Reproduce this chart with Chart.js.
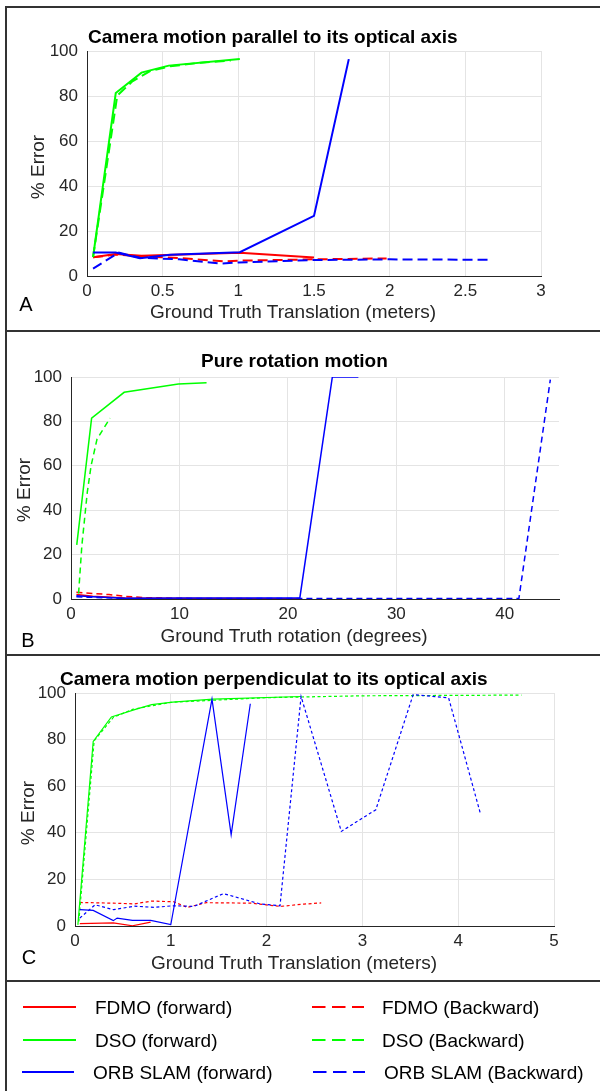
<!DOCTYPE html>
<html>
<head>
<meta charset="utf-8">
<script src="https://cdn.jsdelivr.net/npm/chart.js@4.4.1/dist/chart.umd.min.js"></script>
<style>
  body { margin: 0; background: #fff; }
  #page { position: relative; width: 600px; height: 1091px; overflow: hidden; font-family: "Liberation Sans", Arial, sans-serif; color: #262626; }
  canvas { position: absolute; left: 0; }
  .txt { position: absolute; white-space: nowrap; line-height: 1; }
  .ttl { font-weight: bold; font-size: 19px; color: #000; }
  .lbl { font-size: 19px; width: 400px; text-align: center; }
  .ylbl { font-size: 19px; transform: translate(-50%, -50%) rotate(-90deg); }
  .ltr { font-size: 20px; color: #000; transform: translate(-50%, -50%); }
  .leg { font-size: 19px; color: #000; }
  .hline { position: absolute; left: 5px; right: 0; height: 2px; background: #333; z-index: 2; }
  .vline { position: absolute; left: 5px; top: 6px; bottom: 0; width: 2px; background: #333; z-index: 2; }
  svg { position: absolute; left: 0; top: 0; }
</style>
</head>
<body>
<div id="page">
  <canvas id="chartA" width="600" height="330" style="top:0px"></canvas>
  <canvas id="chartB" width="600" height="324" style="top:331px"></canvas>
  <canvas id="chartC" width="600" height="325" style="top:656px"></canvas>

  <div class="vline"></div>
  <div class="hline" style="top:6px"></div>
  <div class="hline" style="top:330px"></div>
  <div class="hline" style="top:654px"></div>
  <div class="hline" style="top:980px"></div>

  <div class="txt ttl" style="left:88px; top:27px">Camera motion parallel to its optical axis</div>
  <div class="txt lbl" style="left:93px; top:302px">Ground Truth Translation (meters)</div>
  <div class="txt ylbl" style="left:37px; top:167px">% Error</div>
  <div class="txt ltr" style="left:26px; top:304px">A</div>

  <div class="txt ttl" style="left:201px; top:351px">Pure rotation motion</div>
  <div class="txt lbl" style="left:94px; top:626px">Ground Truth rotation (degrees)</div>
  <div class="txt ylbl" style="left:23px; top:490px">% Error</div>
  <div class="txt ltr" style="left:28px; top:640px">B</div>

  <div class="txt ttl" style="left:60px; top:669px">Camera motion perpendiculat to its optical axis</div>
  <div class="txt lbl" style="left:94px; top:953px">Ground Truth Translation (meters)</div>
  <div class="txt ylbl" style="left:27px; top:813px">% Error</div>
  <div class="txt ltr" style="left:29px; top:957px">C</div>

  <svg width="600" height="1091">
    <line x1="23" y1="1007" x2="76" y2="1007" stroke="#ff0000" stroke-width="2"/>
    <line x1="23" y1="1040" x2="76" y2="1040" stroke="#00ff00" stroke-width="2"/>
    <line x1="22" y1="1072" x2="74" y2="1072" stroke="#0000ff" stroke-width="2"/>
    <line x1="312" y1="1007" x2="364" y2="1007" stroke="#ff0000" stroke-width="2" stroke-dasharray="13.5 6.5"/>
    <line x1="312" y1="1040" x2="364" y2="1040" stroke="#00ff00" stroke-width="2" stroke-dasharray="13.5 6.5"/>
    <line x1="313" y1="1072" x2="365" y2="1072" stroke="#0000ff" stroke-width="2" stroke-dasharray="13.5 6.5"/>
  </svg>
  <div class="txt leg" style="left:95px; top:998px">FDMO (forward)</div>
  <div class="txt leg" style="left:95px; top:1031px">DSO (forward)</div>
  <div class="txt leg" style="left:93px; top:1063px">ORB SLAM (forward)</div>
  <div class="txt leg" style="left:382px; top:998px">FDMO (Backward)</div>
  <div class="txt leg" style="left:382px; top:1031px">DSO (Backward)</div>
  <div class="txt leg" style="left:384px; top:1063px">ORB SLAM (Backward)</div>
</div>

<script>
// A: motion parallel to optical axis (x in meters)
const parFdmoFwdX = [0.04, 0.19, 0.36, 1.01, 1.5];
const parFdmoFwdY = [8.3, 9.8, 9.0, 10.3, 8.2];
const parFdmoBwdX = [0.04, 0.19, 0.4, 0.6, 0.9, 1.0, 1.5, 1.98];
const parFdmoBwdY = [8.3, 9.5, 8.6, 8.0, 6.5, 6.8, 7.4, 7.8];
const parDsoFwdX  = [0.04, 0.19, 0.36, 0.54, 1.01];
const parDsoFwdY  = [8.4, 81.3, 90.4, 93.5, 96.4];
const parDsoBwdX  = [0.04, 0.2, 0.3, 0.42, 0.55, 0.75, 0.95];
const parDsoBwdY  = [8.4, 80.2, 86.5, 91.2, 93.2, 94.8, 95.8];
const parOrbFwdX  = [0.04, 0.19, 0.35, 0.55, 1.01, 1.5, 1.73];
const parOrbFwdY  = [10.4, 10.4, 7.9, 9.4, 10.6, 26.7, 96.4];
const parOrbBwdX  = [0.04, 0.21, 0.35, 0.61, 0.88, 1.0, 1.5, 2.0, 2.66];
const parOrbBwdY  = [3.3, 10.4, 8.1, 7.4, 5.5, 6.0, 7.1, 7.4, 7.2];

// B: pure rotation (x in degrees)
const rotFdmoFwdX = [0.5, 2, 5, 10, 21];
const rotFdmoFwdY = [2.0, 1.2, 0.4, 0.2, 0.1];
const rotFdmoBwdX = [0.5, 2, 3.5, 5, 7, 10, 20];
const rotFdmoBwdY = [3.0, 2.5, 2.0, 1.2, 0.6, 0.3, 0.1];
const rotDsoFwdX  = [0.53, 1.9, 4.9, 9.9, 12.5];
const rotDsoFwdY  = [24.4, 81.5, 93.1, 96.8, 97.4];
const rotDsoBwdX  = [0.7, 1.0, 1.5, 1.85, 2.4, 3.6];
const rotDsoBwdY  = [2.5, 24, 48, 60, 72, 81.5];
const rotOrbFwdX  = [0.5, 2, 5, 10, 21.1, 24.1, 26.5];
const rotOrbFwdY  = [1.5, 1.0, 0.3, 0.5, 0.5, 100, 100];
const rotOrbBwdX  = [0.5, 5, 10, 20, 30, 41.3, 44.2];
const rotOrbBwdY  = [1.0, 0.2, 0.1, 0.2, 0.2, 0.2, 98.8];

// C: motion perpendicular to optical axis (x in meters)
const perFdmoFwdX = [0.05, 0.4, 0.6, 0.79];
const perFdmoFwdY = [1.0, 1.3, 0.1, 1.7];
const perFdmoBwdX = [0.05, 0.4, 0.62, 0.8, 1.03, 1.17, 1.37, 1.84, 2.14, 2.39, 2.57];
const perFdmoBwdY = [10.1, 9.8, 9.5, 10.7, 10.4, 8.0, 10.0, 9.8, 8.4, 9.4, 9.9];
const perDsoFwdX  = [0.03, 0.19, 0.38, 0.64, 0.8, 1.02, 1.44, 2.36];
const perDsoFwdY  = [0.5, 79.2, 89.7, 93.1, 95.0, 96.1, 97.4, 98.5];
const perDsoBwdX  = [0.04, 0.2, 0.4, 0.6, 1.0, 2.0, 3.0, 4.66];
const perDsoBwdY  = [2, 79.5, 89.5, 93, 96, 98, 98.8, 99.1];
const perOrbFwdX  = [0.05, 0.19, 0.4, 0.44, 0.6, 0.79, 1.0, 1.43, 1.63, 1.83];
const perOrbFwdY  = [7.0, 6.7, 2.3, 3.4, 2.4, 2.4, 0.6, 97.4, 39.2, 95.4];
const perOrbBwdX  = [0.05, 0.21, 0.4, 0.62, 0.83, 1.03, 1.24, 1.55, 1.94, 2.14, 2.36, 2.78, 3.14, 3.53, 3.9, 4.23];
const perOrbBwdY  = [3.4, 9.1, 7.0, 8.5, 8.0, 8.7, 8.4, 13.9, 9.4, 8.7, 98.5, 40.6, 49.9, 99.3, 97.9, 48.5];

const seriesNames = ["FDMO (forward)", "FDMO (Backward)", "DSO (forward)", "DSO (Backward)", "ORB SLAM (forward)", "ORB SLAM (Backward)"];
const seriesColors = ["#ff0000", "#ff0000", "#00ff00", "#00ff00", "#0000ff", "#0000ff"];

Chart.defaults.font.family = '"Liberation Sans", Arial, sans-serif';
Chart.defaults.color = "#262626";

const charts = {};
const pts = (xs, ys) => xs.map((x, i) => ({ x, y: ys[i] }));

function renderPainel(canvasId, series, box) {
  if (charts[canvasId]) charts[canvasId].destroy();
  const ctx = document.getElementById(canvasId)?.getContext("2d");
  if (!ctx) return;

  // matlab draws later lines on top, chart.js draws dataset 0 on top -> reverse
  const datasets = series.map(([xs, ys], i) => ({
    label: seriesNames[i],
    data: pts(xs, ys),
    borderColor: seriesColors[i],
    borderWidth: box.lineW,
    borderDash: i % 2 ? box.dash : [],
    pointRadius: 0,
    tension: 0,
    fill: false,
  })).reverse();

  charts[canvasId] = new Chart(ctx, {
    type: "line",
    data: { datasets },
    options: {
      responsive: false,
      animation: false,
      layout: { padding: { left: 0, top: box.top, right: 600 - box.right, bottom: 0 } },
      plugins: { legend: { display: false }, tooltip: { enabled: false } },
      scales: {
        x: {
          type: "linear", min: 0, max: box.xMax,
          afterFit: (s) => { s.height = box.h - box.bottom; },
          ticks: {
            stepSize: box.xStep, includeBounds: false, autoSkip: false, maxRotation: 0, padding: 5,
            font: { size: 17 },
            callback: (v) => String(Math.round(v * 10) / 10),
          },
          grid: { color: "#e4e4e4", drawTicks: false },
          border: { color: "#262626", width: 1 },
        },
        y: {
          min: 0, max: 100,
          afterFit: (s) => { s.width = box.left; },
          ticks: { stepSize: 20, padding: 9, font: { size: 17 } },
          grid: { color: "#e4e4e4", drawTicks: false },
          border: { color: "#262626", width: 1 },
        },
      },
    },
  });
}

renderPainel("chartA", [
  [parFdmoFwdX, parFdmoFwdY], [parFdmoBwdX, parFdmoBwdY],
  [parDsoFwdX, parDsoFwdY], [parDsoBwdX, parDsoBwdY],
  [parOrbFwdX, parOrbFwdY], [parOrbBwdX, parOrbBwdY],
], { left: 87, right: 541, top: 51, bottom: 276, h: 330, xMax: 3, xStep: 0.5, lineW: 2, dash: [10, 5] });

renderPainel("chartB", [
  [rotFdmoFwdX, rotFdmoFwdY], [rotFdmoBwdX, rotFdmoBwdY],
  [rotDsoFwdX, rotDsoFwdY], [rotDsoBwdX, rotDsoBwdY],
  [rotOrbFwdX, rotOrbFwdY], [rotOrbBwdX, rotOrbBwdY],
], { left: 71, right: 559, top: 46, bottom: 268, h: 324, xMax: 45, xStep: 10, lineW: 1.5, dash: [6, 4] });

renderPainel("chartC", [
  [perFdmoFwdX, perFdmoFwdY], [perFdmoBwdX, perFdmoBwdY],
  [perDsoFwdX, perDsoFwdY], [perDsoBwdX, perDsoBwdY],
  [perOrbFwdX, perOrbFwdY], [perOrbBwdX, perOrbBwdY],
], { left: 75, right: 554, top: 37, bottom: 270, h: 325, xMax: 5, xStep: 1, lineW: 1.2, dash: [3, 2.5] });
</script>
</body>
</html>
